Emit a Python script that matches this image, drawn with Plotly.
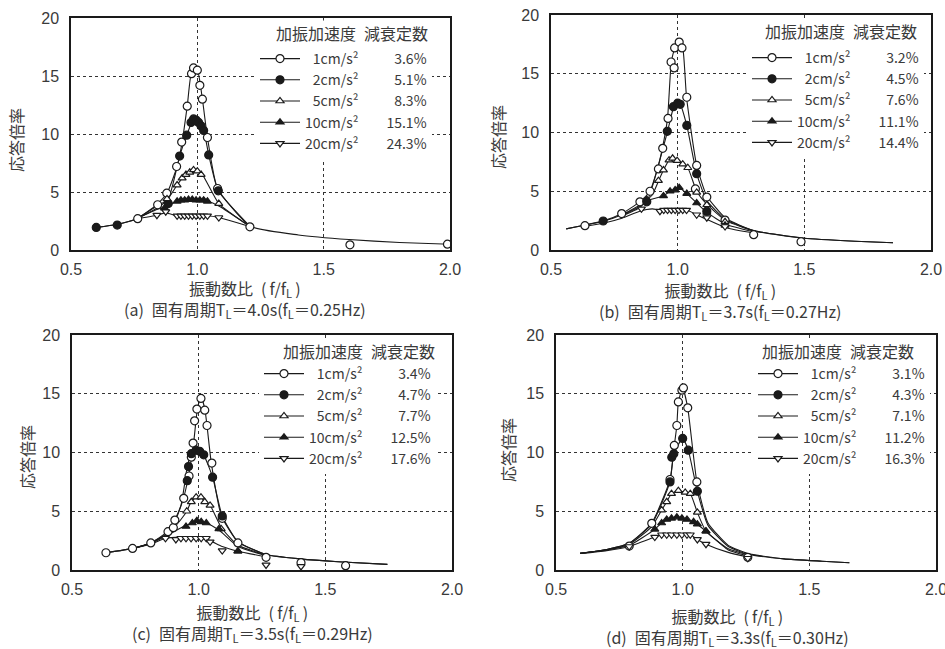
import plotly.graph_objects as go

# ---------------- data ----------------
ACCEL = ["1cm/s²", "2cm/s²", "5cm/s²", "10cm/s²", "20cm/s²"]
DAMP_A = ["3.6%", "5.1%", "8.3%", "15.1%", "24.3%"]
DAMP_B = ["3.2%", "4.5%", "7.6%", "11.1%", "14.4%"]
DAMP_C = ["3.4%", "4.7%", "7.7%", "12.5%", "17.6%"]
DAMP_D = ["3.1%", "4.3%", "7.1%", "11.2%", "16.3%"]
X_TICKS = [0.5, 1.0, 1.5, 2.0]
X_TICK_TEXT = ["0.5", "1.0", "1.5", "2.0"]
Y_TICKS = [0, 5, 10, 15, 20]
Y_TICK_TEXT = ["0", "5", "10", "15", "20"]
CAPTIONS = ["(a)\u2002固有周期T<sub>L</sub>＝4.0s(f<sub>L</sub>＝0.25Hz)",
            "(b)\u2002固有周期T<sub>L</sub>＝3.7s(f<sub>L</sub>＝0.27Hz)",
            "(c)\u2002固有周期T<sub>L</sub>＝3.5s(f<sub>L</sub>＝0.29Hz)",
            "(d)\u2002固有周期T<sub>L</sub>＝3.3s(f<sub>L</sub>＝0.30Hz)"]
X_TITLE = "振動数比\u2002(\u2009f/f<sub>L</sub>\u2009)"
Y_TITLE = "応答倍率"
LEGEND_TITLE = "加振加速度\u2002減衰定数"

# ---- panel (a) markers
a_m1_x = [0.764, 0.843, 0.879, 0.918, 0.938, 0.960, 0.977, 0.985, 1.000, 1.010, 1.020, 1.040, 1.080, 1.208, 1.604, 1.990]
a_m1_y = [2.7, 3.9, 4.9, 7.2, 9.3, 12.4, 15.2, 15.7, 15.5, 14.2, 13.0, 9.7, 5.3, 2.0, 0.45, 0.5]
a_m2_x = [0.600, 0.683, 0.885, 0.930, 0.958, 0.975, 0.985, 0.995, 1.005, 1.015, 1.025, 1.045, 1.083]
a_m2_y = [1.95, 2.15, 4.0, 8.1, 9.9, 11.0, 11.3, 11.2, 11.0, 10.7, 10.3, 8.2, 5.1]
a_m3_x = [0.880, 0.920, 0.940, 0.955, 0.970, 0.985, 1.000, 1.015, 1.085]
a_m3_y = [4.4, 5.6, 6.2, 6.5, 6.7, 6.9, 6.8, 6.5, 4.0]
a_m4_x = [0.870, 0.920, 0.935, 0.950, 0.965, 0.980, 0.995, 1.010, 1.025, 1.040]
a_m4_y = [3.6, 4.2, 4.3, 4.3, 4.35, 4.35, 4.3, 4.3, 4.3, 4.2]
a_m5_x = [0.840, 0.875, 0.920, 0.935, 0.950, 0.965, 0.980, 0.995, 1.010, 1.025, 1.040, 1.085]
a_m5_y = [3.0, 3.3, 2.95, 2.95, 2.95, 2.95, 2.95, 2.95, 2.95, 2.95, 2.95, 2.8]
# ---- panel (a) curves
a_c1_x = [0.60, 0.68, 0.76, 0.84, 0.88, 0.92, 0.94, 0.96, 0.98, 1.00, 1.02, 1.04, 1.08, 1.21, 1.40, 1.60, 1.80, 2.00]
a_c1_y = [1.95, 2.2, 2.7, 3.9, 4.9, 7.2, 9.3, 12.4, 15.6, 15.5, 13.0, 9.7, 5.3, 2.05, 1.3, 0.9, 0.65, 0.5]
a_c2_x = [0.60, 0.68, 0.76, 0.84, 0.885, 0.93, 0.958, 0.985, 1.00, 1.025, 1.045, 1.083, 1.21]
a_c2_y = [1.95, 2.2, 2.7, 3.8, 4.4, 8.1, 9.9, 11.3, 11.1, 10.3, 8.2, 5.1, 2.0]
a_c3_x = [0.76, 0.84, 0.88, 0.92, 0.94, 0.96, 0.98, 1.00, 1.02, 1.085, 1.21]
a_c3_y = [2.7, 3.6, 4.3, 5.6, 6.2, 6.6, 6.9, 6.8, 6.5, 4.0, 2.0]
a_c4_x = [0.76, 0.84, 0.87, 0.92, 0.98, 1.04, 1.085, 1.21]
a_c4_y = [2.7, 3.5, 3.7, 4.2, 4.35, 4.2, 3.8, 2.0]
a_c5_x = [0.76, 0.84, 0.875, 0.92, 0.98, 1.04, 1.085, 1.21]
a_c5_y = [2.7, 3.0, 3.2, 2.95, 2.95, 2.95, 2.8, 2.0]

# ---- panel (b) markers
b_m1_x = [0.634, 0.779, 0.851, 0.891, 0.924, 0.941, 0.962, 0.974, 0.986, 0.988, 1.006, 1.017, 1.036, 1.070, 1.075, 1.115, 1.187, 1.300, 1.487]
b_m1_y = [2.07, 3.1, 4.1, 5.0, 6.9, 8.65, 11.2, 16.0, 15.5, 17.2, 17.7, 17.2, 13.0, 5.2, 7.2, 4.5, 2.55, 1.3, 0.7]
b_m2_x = [0.706, 0.878, 0.959, 0.983, 1.000, 1.010, 1.036, 1.075, 1.115]
b_m2_y = [2.47, 4.1, 10.1, 12.2, 12.5, 12.4, 10.6, 6.5, 3.3]
b_m3_x = [0.924, 0.944, 0.966, 0.980, 0.998, 1.020, 1.040, 1.075, 1.115, 1.187]
b_m3_y = [5.9, 6.8, 7.65, 7.8, 7.6, 7.3, 7.0, 4.9, 3.85, 2.4]
b_m4_x = [0.878, 0.944, 0.970, 0.990, 1.006, 1.036, 1.075, 1.115, 1.187]
b_m4_y = [4.3, 4.6, 5.0, 5.1, 5.3, 4.8, 4.0, 3.2, 2.1]
b_m5_x = [0.857, 0.930, 0.945, 0.960, 0.975, 0.990, 1.005, 1.020, 1.035, 1.075, 1.115, 1.187]
b_m5_y = [3.5, 3.3, 3.4, 3.4, 3.4, 3.4, 3.4, 3.4, 3.4, 3.0, 2.75, 2.0]
# ---- panel (b) curves
b_c1_x = [0.56, 0.63, 0.71, 0.78, 0.85, 0.89, 0.92, 0.94, 0.96, 0.975, 0.99, 1.005, 1.02, 1.035, 1.075, 1.115, 1.19, 1.30, 1.50, 1.70, 1.85]
b_c1_y = [1.8, 2.1, 2.5, 3.1, 4.1, 5.0, 6.9, 8.7, 11.2, 16.0, 17.2, 17.7, 17.2, 13.0, 7.2, 4.6, 2.7, 1.65, 1.0, 0.75, 0.62]
b_c2_x = [0.56, 0.63, 0.71, 0.78, 0.85, 0.88, 0.96, 0.985, 1.00, 1.01, 1.036, 1.075, 1.115, 1.19, 1.30, 1.50, 1.70, 1.85]
b_c2_y = [1.8, 2.1, 2.47, 3.0, 3.8, 4.2, 10.1, 12.2, 12.5, 12.4, 10.6, 6.5, 4.2, 2.6, 1.65, 1.0, 0.75, 0.62]
b_c3_x = [0.78, 0.85, 0.90, 0.925, 0.944, 0.966, 0.98, 1.00, 1.02, 1.04, 1.075, 1.115, 1.19, 1.30]
b_c3_y = [2.95, 3.7, 4.7, 5.9, 6.8, 7.65, 7.8, 7.6, 7.3, 7.0, 5.0, 3.9, 2.5, 1.6]
b_c4_x = [0.78, 0.85, 0.878, 0.944, 0.97, 0.99, 1.006, 1.036, 1.075, 1.115, 1.19, 1.30]
b_c4_y = [2.9, 3.6, 4.2, 4.6, 5.0, 5.1, 5.3, 4.8, 4.0, 3.2, 2.2, 1.55]
b_c5_x = [0.63, 0.71, 0.78, 0.85, 0.90, 0.93, 0.98, 1.035, 1.075, 1.115, 1.19, 1.30]
b_c5_y = [2.0, 2.3, 2.7, 3.3, 3.5, 3.4, 3.4, 3.4, 3.0, 2.6, 1.9, 1.45]

# ---- panel (c) markers
c_m1_x = [0.634, 0.739, 0.811, 0.879, 0.900, 0.906, 0.941, 0.962, 0.971, 0.978, 0.984, 0.993, 1.009, 1.024, 1.033, 1.052, 1.093, 1.155, 1.266, 1.404, 1.580]
c_m1_y = [1.47, 1.84, 2.3, 3.26, 3.6, 4.25, 6.1, 8.0, 9.6, 10.8, 12.7, 13.7, 14.6, 13.6, 12.3, 9.1, 4.4, 2.3, 1.08, 0.62, 0.37]
c_m2_x = [0.955, 0.960, 0.971, 0.990, 1.004, 1.020, 1.055, 1.093]
c_m2_y = [7.6, 8.8, 9.9, 10.2, 10.1, 9.8, 7.9, 4.6]
c_m3_x = [0.953, 0.971, 0.990, 1.009, 1.024, 1.045, 1.089, 1.155]
c_m3_y = [5.0, 5.8, 6.2, 6.2, 5.8, 5.5, 3.5, 1.6]
c_m4_x = [0.950, 0.975, 0.993, 1.010, 1.030, 1.080, 1.155]
c_m4_y = [3.7, 4.0, 4.2, 4.1, 4.0, 3.5, 1.6]
c_m5_x = [0.869, 0.910, 0.930, 0.950, 0.970, 0.990, 1.010, 1.030, 1.045, 1.093, 1.266, 1.404]
c_m5_y = [2.7, 2.6, 2.7, 2.7, 2.7, 2.7, 2.7, 2.7, 2.4, 1.65, 0.43, 0.3]
# ---- panel (c) curves
c_c1_x = [0.634, 0.74, 0.81, 0.88, 0.91, 0.94, 0.96, 0.98, 0.995, 1.009, 1.025, 1.05, 1.09, 1.155, 1.27, 1.40, 1.55, 1.745]
c_c1_y = [1.47, 1.84, 2.3, 3.3, 4.3, 6.1, 8.0, 10.8, 13.7, 14.8, 13.6, 9.1, 4.6, 2.4, 1.3, 0.95, 0.7, 0.48]
c_c2_x = [0.634, 0.74, 0.81, 0.88, 0.93, 0.955, 0.97, 0.99, 1.005, 1.02, 1.055, 1.093, 1.155, 1.27, 1.40, 1.55, 1.745]
c_c2_y = [1.47, 1.84, 2.3, 3.2, 5.5, 8.8, 9.9, 10.2, 10.1, 9.8, 7.9, 4.6, 2.4, 1.3, 0.95, 0.7, 0.48]
c_c3_x = [0.74, 0.81, 0.88, 0.93, 0.953, 0.97, 0.99, 1.009, 1.024, 1.045, 1.09, 1.155, 1.27]
c_c3_y = [1.84, 2.3, 3.1, 4.3, 5.0, 5.8, 6.2, 6.2, 5.8, 5.5, 3.6, 2.1, 1.25]
c_c4_x = [0.74, 0.81, 0.88, 0.95, 0.975, 0.993, 1.01, 1.03, 1.08, 1.155, 1.27]
c_c4_y = [1.84, 2.25, 3.0, 3.8, 4.0, 4.2, 4.1, 4.0, 3.4, 2.0, 1.2]
c_c5_x = [0.74, 0.81, 0.87, 0.93, 1.00, 1.045, 1.093, 1.155, 1.27]
c_c5_y = [1.84, 2.2, 2.7, 2.8, 2.8, 2.5, 2.0, 1.6, 1.1]

# ---- panel (d) markers
d_m1_x = [0.789, 0.878, 0.950, 0.967, 0.977, 0.983, 0.997, 1.003, 1.020, 1.056, 1.257]
d_m1_y = [2.04, 3.97, 7.7, 10.6, 12.3, 14.3, 15.3, 15.5, 13.8, 7.5, 1.08]
d_m2_x = [0.950, 0.957, 0.965, 1.000, 1.022, 1.058]
d_m2_y = [7.5, 9.6, 9.9, 11.2, 10.2, 6.7]
d_m3_x = [0.917, 0.937, 0.956, 0.983, 1.010, 1.030, 1.058, 1.092]
d_m3_y = [5.1, 5.8, 6.5, 6.75, 6.6, 6.5, 4.9, 3.3]
d_m4_x = [0.890, 0.917, 0.937, 0.956, 0.977, 0.997, 1.017, 1.043, 1.058, 1.092]
d_m4_y = [3.46, 4.0, 4.3, 4.4, 4.5, 4.4, 4.3, 4.1, 3.9, 3.3]
d_m5_x = [0.789, 0.890, 0.917, 0.937, 0.956, 0.977, 0.997, 1.017, 1.030, 1.058, 1.092, 1.257]
d_m5_y = [2.0, 2.8, 3.0, 3.0, 3.0, 3.0, 3.0, 3.0, 3.0, 2.6, 2.2, 1.0]
# ---- panel (d) curves
d_c1_x = [0.595, 0.70, 0.79, 0.878, 0.95, 0.967, 0.977, 0.983, 1.00, 1.02, 1.056, 1.10, 1.18, 1.257, 1.40, 1.55, 1.658]
d_c1_y = [1.42, 1.75, 2.3, 4.0, 7.7, 10.6, 12.3, 14.3, 15.5, 13.8, 7.5, 4.0, 2.1, 1.4, 0.95, 0.75, 0.62]
d_c2_x = [0.595, 0.70, 0.79, 0.878, 0.95, 0.965, 1.00, 1.022, 1.058, 1.10, 1.18, 1.257, 1.40, 1.55, 1.658]
d_c2_y = [1.42, 1.75, 2.3, 3.9, 7.5, 9.9, 11.2, 10.2, 6.7, 3.8, 2.0, 1.35, 0.95, 0.75, 0.62]
d_c3_x = [0.595, 0.70, 0.79, 0.878, 0.917, 0.937, 0.956, 0.983, 1.01, 1.03, 1.058, 1.092, 1.18, 1.257]
d_c3_y = [1.42, 1.72, 2.2, 3.7, 5.1, 5.8, 6.5, 6.75, 6.6, 6.5, 4.9, 3.3, 1.8, 1.3]
d_c4_x = [0.595, 0.70, 0.79, 0.89, 0.917, 0.956, 0.977, 0.997, 1.043, 1.058, 1.092, 1.18, 1.257]
d_c4_y = [1.42, 1.7, 2.1, 3.46, 4.0, 4.4, 4.5, 4.4, 4.1, 3.9, 3.3, 1.7, 1.2]
d_c5_x = [0.595, 0.70, 0.789, 0.89, 0.917, 0.977, 1.03, 1.058, 1.092, 1.18, 1.257]
d_c5_y = [1.4, 1.65, 2.0, 2.8, 3.0, 3.0, 3.0, 2.6, 2.2, 1.5, 1.1]

# ---------------- styling ----------------
W, H = 945, 649
FONT = "Noto Sans CJK JP"
TICKFONT = "Liberation Sans"
TXT = "#3a3a3a"
INK = "#1a1a1a"
SYMBOLS = [("circle", "white", 8), ("circle", INK, 8), ("triangle-up", "white", 7),
           ("triangle-up", INK, 7), ("triangle-down", "white", 7)]

# pixel boxes of the four plot areas: left, right, top, bottom
BOXES = [(71, 450, 18, 250), (551, 931, 15, 250), (72, 452, 335, 570), (556, 936, 335, 570)]
# legend anchor (right edge px, top px)
LEG_POS = [(432, 43), (924, 42), (436, 358), (930, 358)]
HEADER_POS = [(352, 33), (841, 31), (359, 351), (838, 351)]
# centre of the two-line block: x-axis title + caption
BLOCK_POS = [(245, 299), (720, 301), (253, 623), (727, 627)]
YTITLE_POS = [(16, 140), (498, 137), (27, 457), (508, 450)]

panels = [
    dict(m=[(a_m1_x, a_m1_y), (a_m2_x, a_m2_y), (a_m3_x, a_m3_y), (a_m4_x, a_m4_y), (a_m5_x, a_m5_y)],
         c=[(a_c1_x, a_c1_y), (a_c2_x, a_c2_y), (a_c3_x, a_c3_y), (a_c4_x, a_c4_y), (a_c5_x, a_c5_y)],
         damp=DAMP_A),
    dict(m=[(b_m1_x, b_m1_y), (b_m2_x, b_m2_y), (b_m3_x, b_m3_y), (b_m4_x, b_m4_y), (b_m5_x, b_m5_y)],
         c=[(b_c1_x, b_c1_y), (b_c2_x, b_c2_y), (b_c3_x, b_c3_y), (b_c4_x, b_c4_y), (b_c5_x, b_c5_y)],
         damp=DAMP_B),
    dict(m=[(c_m1_x, c_m1_y), (c_m2_x, c_m2_y), (c_m3_x, c_m3_y), (c_m4_x, c_m4_y), (c_m5_x, c_m5_y)],
         c=[(c_c1_x, c_c1_y), (c_c2_x, c_c2_y), (c_c3_x, c_c3_y), (c_c4_x, c_c4_y), (c_c5_x, c_c5_y)],
         damp=DAMP_C),
    dict(m=[(d_m1_x, d_m1_y), (d_m2_x, d_m2_y), (d_m3_x, d_m3_y), (d_m4_x, d_m4_y), (d_m5_x, d_m5_y)],
         c=[(d_c1_x, d_c1_y), (d_c2_x, d_c2_y), (d_c3_x, d_c3_y), (d_c4_x, d_c4_y), (d_c5_x, d_c5_y)],
         damp=DAMP_D),
]

FS = "\u2007"  # figure space (digit width)


def label(acc, damp):
    pad1 = FS if not acc.startswith(("10", "20")) else ""
    pad2 = FS if len(damp) == 4 else ""
    return f"{pad1}{acc}\u2003\u2003{pad2}{damp}"


fig = go.Figure()
layout = dict(width=W, height=H, margin=dict(l=0, r=0, t=0, b=0, autoexpand=False),
              paper_bgcolor="white", plot_bgcolor="white", showlegend=True,
              font=dict(family=FONT, color=TXT, size=15))
annotations = []

for i, p in enumerate(panels):
    n = "" if i == 0 else str(i + 1)
    xa, ya = "x" + n, "y" + n
    leg = "legend" + n
    l, r, t, b = BOXES[i]
    layout["xaxis" + n] = dict(
        domain=[l / W, r / W], anchor=ya, range=[0.5, 2.0], tickvals=X_TICKS, ticktext=X_TICK_TEXT,
        showgrid=True, gridcolor="#333", griddash="dot", gridwidth=1, zeroline=False,
        showline=True, mirror=True, linecolor=INK, linewidth=1.5, ticks="",
        ticklabelstandoff=4, ticklabeloverflow="allow",
        tickfont=dict(size=16, color=TXT, family=TICKFONT))
    layout["yaxis" + n] = dict(
        domain=[1 - b / H, 1 - t / H], anchor=xa, range=[0, 20], tickvals=Y_TICKS, ticktext=Y_TICK_TEXT,
        showgrid=True, gridcolor="#333", griddash="dot", gridwidth=1, zeroline=False,
        showline=True, mirror=True, linecolor=INK, linewidth=1.5, ticks="",
        ticklabelstandoff=7, ticklabeloverflow="allow",
        tickfont=dict(size=16, color=TXT, family=TICKFONT))
    lx, ly = LEG_POS[i]
    layout[leg] = dict(x=lx / W, y=1 - ly / H, xanchor="right", yanchor="top",
                       bgcolor="white", borderwidth=0, itemwidth=40,
                       font=dict(size=14, color=TXT, family=FONT),
                       tracegroupgap=0, itemclick=False)

    for k in range(5):
        cx, cy = p["c"][k]
        fig.add_trace(go.Scatter(x=cx, y=cy, mode="lines", xaxis=xa, yaxis=ya,
                                 line=dict(color=INK, width=1.1, shape="spline", smoothing=0.5),
                                 showlegend=False, hoverinfo="skip"))
    for k in range(5):
        sym, fill, size = SYMBOLS[k]
        mx, my = p["m"][k]
        fig.add_trace(go.Scatter(x=mx, y=my, mode="markers", xaxis=xa, yaxis=ya,
                                 marker=dict(symbol=sym, color=fill, size=size,
                                             line=dict(color=INK, width=1.2)),
                                 showlegend=False))
    for k in range(5):
        sym, fill, size = SYMBOLS[k]
        fig.add_trace(go.Scatter(x=[None], y=[None], mode="lines+markers", xaxis=xa, yaxis=ya,
                                 name=label(ACCEL[k], p["damp"][k]), legend=leg,
                                 marker=dict(symbol=sym, color=fill, size=size,
                                             line=dict(color=INK, width=1.2)),
                                 line=dict(color=INK, width=1.1)))

    hx, hy = HEADER_POS[i]
    annotations.append(dict(text=LEGEND_TITLE, x=hx / W, y=1 - hy / H, xref="paper", yref="paper",
                            xanchor="center", yanchor="middle", bgcolor="white", borderpad=0,
                            showarrow=False, font=dict(size=16, color=TXT)))
    bx, by = BLOCK_POS[i]
    annotations.append(dict(text=X_TITLE + "<br>" + CAPTIONS[i], x=bx / W, y=1 - by / H,
                            xref="paper", yref="paper", xanchor="center", yanchor="middle",
                            align="center", showarrow=False, font=dict(size=16, color=TXT)))
    yx, yy = YTITLE_POS[i]
    annotations.append(dict(text=Y_TITLE, x=yx / W, y=1 - yy / H, xref="paper", yref="paper",
                            xanchor="center", yanchor="middle", textangle=-90,
                            showarrow=False, font=dict(size=16, color=TXT)))

layout["annotations"] = annotations
fig.update_layout(**layout)
fig.write_html("out.html")
